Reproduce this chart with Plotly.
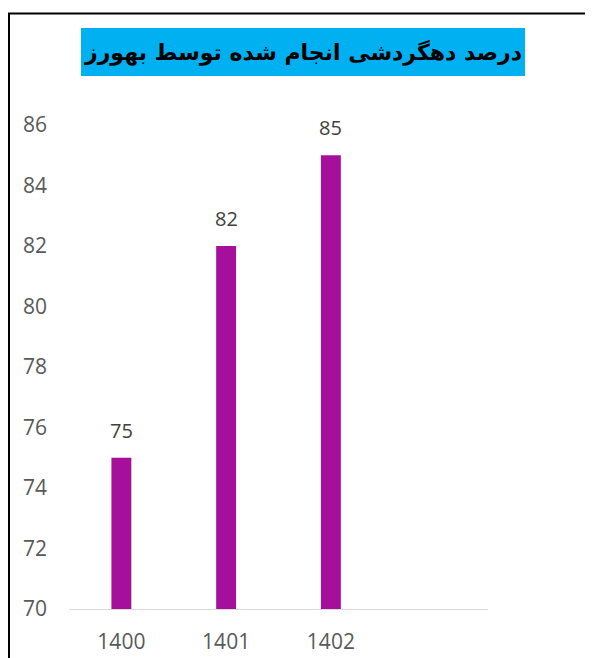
import plotly.graph_objects as go

# ── Data ─────────────────────────────────────────────────────────────────────
years = [1400, 1401, 1402]
values = [75, 82, 85]
y_ticks = [70, 72, 74, 76, 78, 80, 82, 84, 86]
title_text = "درصد دهگردشی انجام شده توسط بهورز"

BAR_COLOR = "#A50F9C"
TICK_COLOR = "#595959"
FONT = "Open Sans, sans-serif"

fig = go.Figure(go.Bar(
    x=years,
    y=values,
    width=0.19,
    marker_color=BAR_COLOR,
    marker_line_width=0,
    showlegend=False,
    hoverinfo="x+y",
))

# value labels above bars
for x, v in zip(years, values):
    fig.add_annotation(x=x, y=v, text=str(v), showarrow=False,
                       yanchor="bottom", yshift=12,
                       font=dict(family=FONT, size=20, color="#404040"))

# title in a filled box
fig.add_annotation(xref="paper", yref="paper", x=0.5585, y=1.1508,
                   text=f"<b>{title_text}</b>", showarrow=False,
                   xanchor="center", yanchor="middle",
                   width=444, height=48, bgcolor="#00B0F0",
                   borderpad=0, borderwidth=0,
                   font=dict(family="DejaVu Sans, sans-serif", size=22, color="#000000"))

# outer chart border (page body margin already shifts the figure by 8px)
fig.add_shape(type="rect", xref="paper", yref="paper",
              x0=-0.1432, x1=1.40, y0=-0.25, y1=1.2304,
              line=dict(color="#000000", width=2), fillcolor="rgba(0,0,0,0)")

fig.update_layout(
    width=585, height=650,
    margin=dict(l=61, r=105, t=117, b=49),
    paper_bgcolor="white",
    plot_bgcolor="white",
    font=dict(family=FONT, size=21, color=TICK_COLOR),
    xaxis=dict(range=[1399.5, 1403.5], tickvals=years, ticktext=[str(y) for y in years],
               showgrid=False, zeroline=False, showline=True, linecolor="#D9D9D9",
               linewidth=1, ticks="", ticklabelstandoff=14, automargin=False,
               tickfont=dict(family=FONT, size=21, color=TICK_COLOR)),
    yaxis=dict(range=[70, 86], tickvals=y_ticks, showgrid=False, zeroline=False,
               showline=False, ticks="", ticklabelstandoff=21, automargin=False,
               tickfont=dict(family=FONT, size=21, color=TICK_COLOR)),
)

fig.write_html("out.html")
